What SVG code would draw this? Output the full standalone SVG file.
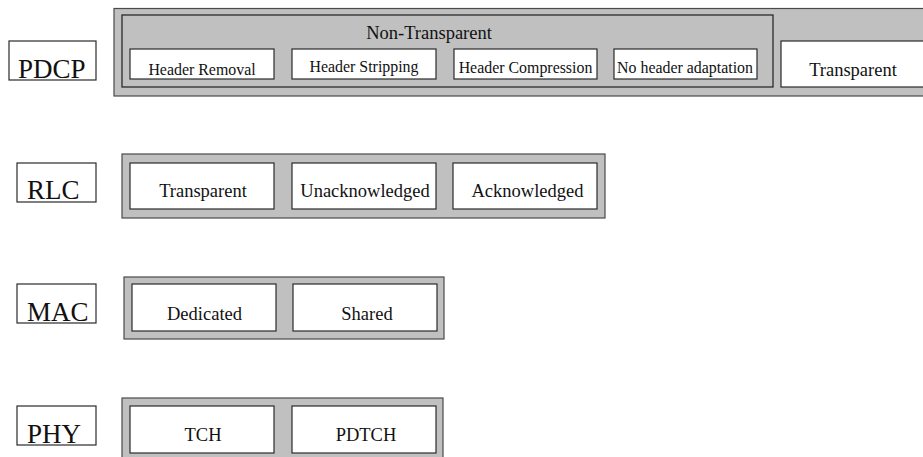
<svg xmlns="http://www.w3.org/2000/svg" width="923" height="457" viewBox="0 0 923 457">
<style>
.bg{fill:#ffffff}
.grp{fill:#c0c0c0;stroke:#4a4a4a;stroke-width:1.2}
.inner{fill:#c0c0c0;stroke:#1e1e1e;stroke-width:1.2}
.box{fill:#ffffff;stroke:#2a2a2a;stroke-width:1.2}
.lab{fill:#ffffff;stroke:#2a2a2a;stroke-width:1.2}
text{font-family:"Liberation Serif","Times New Roman",serif;fill:#111}
.big{font-size:27px}
.m{font-size:18.5px;text-anchor:middle}
.s{font-size:15.9px;text-anchor:middle}
</style>
<rect class="bg" x="0" y="0" width="923" height="457"/>
<g id="layer-pdcp">
  <g id="pdcp-label"><rect class="lab" x="9" y="41" width="87" height="39"/><text class="big" x="18" y="78">PDCP</text></g>
  <g id="pdcp-group">
    <rect class="grp" x="114" y="8.5" width="820" height="87.5"/>
    <g id="pdcp-nontransparent">
      <rect class="inner" x="122" y="15" width="651" height="72"/>
      <text class="m" x="429" y="39">Non-Transparent</text>
    </g>
    <g id="pdcp-header-removal"><rect class="box" x="130" y="49" width="144" height="30"/><text class="s" x="202" y="75">Header Removal</text></g>
    <g id="pdcp-header-stripping"><rect class="box" x="292" y="49" width="144" height="30"/><text class="s" x="364" y="72">Header Stripping</text></g>
    <g id="pdcp-header-compression"><rect class="box" x="454" y="49" width="143" height="30"/><text class="s" x="525.5" y="73">Header Compression</text></g>
    <g id="pdcp-no-header"><rect class="box" x="614" y="49" width="143" height="30"/><text class="s" x="685" y="73">No header adaptation</text></g>
    <g id="pdcp-transparent"><rect class="box" x="781" y="41" width="160" height="46"/><text class="m" x="853" y="76">Transparent</text></g>
  </g>
</g>
<g id="layer-rlc">
  <g id="rlc-label"><rect class="lab" x="17" y="163" width="79" height="39"/><text class="big" x="27" y="199">RLC</text></g>
  <g id="rlc-group">
    <rect class="grp" x="122" y="154" width="483" height="64"/>
    <g id="rlc-transparent"><rect class="box" x="130" y="163" width="144" height="46"/><text class="m" x="203" y="197">Transparent</text></g>
    <g id="rlc-unack"><rect class="box" x="292" y="163" width="144" height="46"/><text class="m" x="365" y="197">Unacknowledged</text></g>
    <g id="rlc-ack"><rect class="box" x="453" y="163" width="144" height="46"/><text class="m" x="527.5" y="197">Acknowledged</text></g>
  </g>
</g>
<g id="layer-mac">
  <g id="mac-label"><rect class="lab" x="17" y="284" width="79" height="39"/><text class="big" x="27" y="321">MAC</text></g>
  <g id="mac-group">
    <rect class="grp" x="124" y="277" width="320" height="62"/>
    <g id="mac-dedicated"><rect class="box" x="132" y="284" width="144" height="47"/><text class="m" x="204.5" y="320">Dedicated</text></g>
    <g id="mac-shared"><rect class="box" x="293" y="284" width="144" height="47"/><text class="m" x="367" y="320">Shared</text></g>
  </g>
</g>
<g id="layer-phy">
  <g id="phy-label"><rect class="lab" x="17" y="406" width="79" height="39"/><text class="big" x="27" y="443">PHY</text></g>
  <g id="phy-group">
    <rect class="grp" x="122" y="398" width="321" height="70"/>
    <g id="phy-tch"><rect class="box" x="130" y="406" width="144" height="47"/><text class="m" x="203" y="441">TCH</text></g>
    <g id="phy-pdtch"><rect class="box" x="292" y="406" width="144" height="47"/><text class="m" x="366" y="441">PDTCH</text></g>
  </g>
</g>
<g id="connectors"></g>
</svg>
